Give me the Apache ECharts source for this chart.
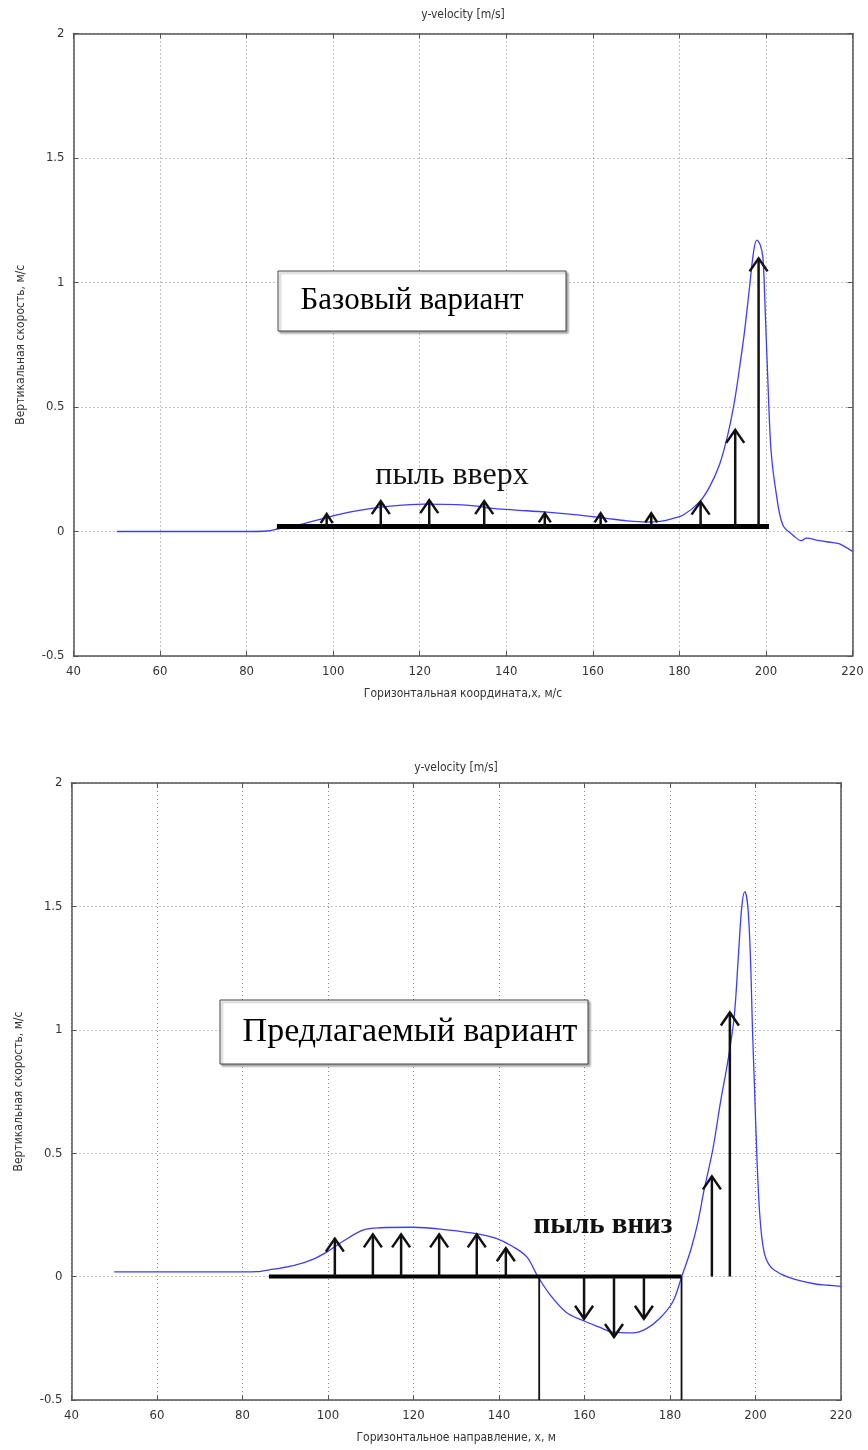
<!DOCTYPE html>
<html><head><meta charset="utf-8">
<script src="https://cdn.jsdelivr.net/npm/echarts@6/dist/echarts.min.js"></script>
<style>html,body{margin:0;padding:0;background:#fff}#c{width:868px;height:1450px}</style>
</head><body><div id="c"></div>
<script>
// ---------- data ----------
const chartTitle = 'y-velocity [m/s]';
const yAxisName = 'Вертикальная скорость, м/с';
const xNameTop = 'Горизонтальная координата,x, м/с';
const xNameBottom = 'Горизонтальное направление, x, м';

// top chart (base variant) velocity curve [x, vy]
const topCurve = [
  [50,0],[55,0],[60,0],[65,0],[70,0],[75,0],[80,0],[84.7,0.002],[87.4,0.011],[90,0.02],
  [93.1,0.031],[97.8,0.053],[102.4,0.073],[107.8,0.09],[113.2,0.102],[120.8,0.11],[128.5,0.108],
  [133.2,0.102],[136.2,0.094],[141.6,0.087],[149.3,0.078],[157,0.066],[163.2,0.053],[167.8,0.043],
  [172.4,0.038],[175.5,0.041],[178,0.05],[180.9,0.066],[184.7,0.12],[187,0.18],[189.3,0.27],
  [191.2,0.39],[192.8,0.53],[194,0.67],[195.1,0.81],[196.2,0.98],[197.2,1.13],[197.9,1.17],
  [198.7,1.15],[199.3,1.1],[199.8,0.9],[200.5,0.58],[201.2,0.32],[202.4,0.15],[203.9,0.026],
  [206.2,-0.014],[208.2,-0.037],[209.3,-0.027],[212.4,-0.037],[215.5,-0.045],[217,-0.05],[220,-0.08]
];
// top chart dust line and arrows [x, base, tip]
const topBaseline = [[87,0.02],[200.7,0.02]];
const topArrows = [
  [98.5,0.02,0.07],[111,0.02,0.122],[122.2,0.02,0.126],[134.9,0.02,0.122],[148.9,0.02,0.073],
  [161.8,0.02,0.073],[173.5,0.02,0.073],[184.9,0.02,0.12],[192.9,0.02,0.408],[198.3,0.02,1.097]
];

// bottom chart (proposed variant) velocity curve
const bottomCurve = [
  [50,0.019],[60,0.019],[70,0.019],[80,0.019],[83.4,0.02],[87.2,0.03],[91.9,0.044],[96.6,0.071],
  [100.1,0.104],[103.6,0.144],[108.3,0.189],[112.2,0.198],[120,0.2],[127.8,0.189],[135.6,0.171],
  [139.5,0.154],[143,0.124],[146.5,0.08],[149,0.003],[151.8,-0.07],[155.7,-0.144],[159.6,-0.178],
  [163.5,-0.205],[166.6,-0.225],[171.3,-0.228],[174.4,-0.212],[177.5,-0.171],[180.6,-0.104],
  [182.8,0.003],[184.9,0.111],[186.5,0.219],[188,0.353],[190,0.514],[191.9,0.716],[193.5,0.87],
  [195,1.05],[196,1.3],[196.8,1.5],[197.5,1.56],[198.2,1.5],[198.8,1.3],[199.3,1.0],[199.8,0.75],
  [200.3,0.5],[201,0.25],[202,0.1],[203.5,0.04],[206,0.01],[209,-0.01],[214,-0.03],[217,-0.035],[220,-0.04]
];
const bottomBaseline = [[86.2,0],[182.7,0]];
const bottomVLines = [[149.4,0,-0.5],[182.7,0,-0.5]];
const bottomArrows = [
  [101.6,0,0.154],[110.5,0,0.171],[117.1,0,0.171],[126,0,0.171],[134.8,0,0.171],[141.6,0,0.115],
  [159.9,0,-0.171],[166.9,0,-0.245],[173.9,0,-0.171],[189.8,0,0.406],[194,0,1.07]
];

const labelTop = 'Базовый вариант';
const labelTopDust = 'пыль вверх';
const labelBottom = 'Предлагаемый вариант';
const labelBottomDust = 'пыль вниз';

// ---------- chart ----------
const FONT = "'DejaVu Sans Condensed','Liberation Sans Narrow','DejaVu Sans',sans-serif";
const SERIF = "'Liberation Serif','DejaVu Serif',serif";
const chart = echarts.init(document.getElementById('c'), null, {renderer:'canvas'});

const grids = [
  {left:73.5, right:15.5, top:33.5, height:622.5, show:false},
  {left:71.5, right:27, top:783, height:617, show:false}
];

function xAx(g, pos, name){
  return {
    gridIndex:g, type:'value', min:40, max:220, interval:20, position:pos,
    axisLine:{show:true, onZero:false, lineStyle:{color:'#555', width:1.5}},
    axisTick:{show:true, inside:true, length:5, lineStyle:{color:'#555'}},
    axisLabel:{show:pos==='bottom', margin:9, fontSize:13, color:'#333', fontFamily:FONT},
    splitLine:{show:pos==='bottom', lineStyle:{type:[1,3], color:'#888', width:1}},
    name: pos==='bottom' ? name : '', nameLocation:'middle', nameGap:32,
    nameTextStyle:{fontSize:12, color:'#333', fontFamily:FONT}
  };
}
function yAx(g, pos){
  return {
    gridIndex:g, type:'value', min:-0.5, max:2, interval:0.5, position:pos,
    axisLine:{show:true, onZero:false, lineStyle:{color:'#555', width:1.5}},
    axisTick:{show:true, inside:true, length:5, lineStyle:{color:'#555'}},
    axisLabel:{show:pos==='left', margin:9, fontSize:13, color:'#333', fontFamily:FONT},
    splitLine:{show:pos==='left', lineStyle:{type:[1,3], color:'#888', width:1}},
    name: pos==='left' ? yAxisName : '', nameLocation:'middle', nameGap:47,
    nameTextStyle:{fontSize:12, color:'#333', fontFamily:FONT}
  };
}

function renderArrow(params, api){
  const x = api.value(0), b = api.value(1), t = api.value(2);
  const p0 = api.coord([x,b]), p1 = api.coord([x,t]);
  const len = Math.abs(p1[1]-p0[1]);
  const dir = p1[1] < p0[1] ? 1 : -1;
  const hw = len < 20 ? 6 : 9, hh = len < 20 ? 9 : 13;
  return {type:'group', children:[
    {type:'line', shape:{x1:p0[0],y1:p0[1],x2:p1[0],y2:p1[1]}, style:{stroke:'#111', lineWidth:2.5}},
    {type:'polyline', shape:{points:[[p1[0]-hw,p1[1]+dir*hh],[p1[0],p1[1]],[p1[0]+hw,p1[1]+dir*hh]]},
     style:{stroke:'#111', lineWidth:2.5, fill:null}}
  ]};
}
function renderVLine(params, api){
  const x = api.value(0);
  const p0 = api.coord([x, api.value(1)]), p1 = api.coord([x, api.value(2)]);
  return {type:'line', shape:{x1:p0[0],y1:p0[1],x2:p1[0],y2:p1[1]}, style:{stroke:'#111', lineWidth:1.8}};
}

function curve(xi, data){
  return {type:'line', xAxisIndex:xi, yAxisIndex:xi, data:data, showSymbol:false, smooth:0.35,
    lineStyle:{color:'#3c3cff', width:1.3}, z:2, silent:true};
}
function base(xi, data, w){
  return {type:'line', xAxisIndex:xi, yAxisIndex:xi, data:data, showSymbol:false,
    lineStyle:{color:'#000', width:w}, z:4, silent:true};
}
function arrows(xi, data){
  return {type:'custom', xAxisIndex:xi, yAxisIndex:xi, data:data, renderItem:renderArrow,
    encode:{x:0, y:[1,2]}, z:5, silent:true};
}

const boxStyle = {fill:'#fff', stroke:'#444', lineWidth:1, shadowColor:'rgba(0,0,0,0.35)', shadowOffsetX:2, shadowOffsetY:2, shadowBlur:2};

chart.setOption({
  animation:false,
  backgroundColor:'#fff',
  grid:grids,
  xAxis:[xAx(0,'bottom',xNameTop), xAx(0,'top'), xAx(1,'bottom',xNameBottom), xAx(1,'top')],
  yAxis:[yAx(0,'left'), yAx(0,'right'), yAx(1,'left'), yAx(1,'right')],
  series:[
    curve(0, topCurve),
    base(0, topBaseline, 5),
    arrows(0, topArrows),
    curve(2, bottomCurve),
    base(2, bottomBaseline, 4),
    {type:'custom', xAxisIndex:2, yAxisIndex:2, data:bottomVLines, renderItem:renderVLine, encode:{x:0,y:[1,2]}, z:4, silent:true},
    arrows(2, bottomArrows)
  ],
  graphic:[
    {type:'text', x:463, y:15, style:{text:chartTitle, fontSize:12, fill:'#333', fontFamily:FONT, align:'center', verticalAlign:'middle'}},
    {type:'text', x:456, y:768, style:{text:chartTitle, fontSize:12, fill:'#333', fontFamily:FONT, align:'center', verticalAlign:'middle'}},
    {type:'rect', shape:{x:278, y:271, width:288, height:60}, style:boxStyle, z:10},
    {type:'text', x:412, y:301, style:{text:labelTop, fontSize:31, fill:'#000', fontFamily:SERIF, align:'center', verticalAlign:'middle'}, z:11},
    {type:'text', x:452, y:476, style:{text:labelTopDust, fontSize:32, fill:'#111', fontFamily:SERIF, align:'center', verticalAlign:'middle'}, z:11},
    {type:'rect', shape:{x:220, y:1000, width:368, height:64}, style:boxStyle, z:10},
    {type:'text', x:410, y:1032, style:{text:labelBottom, fontSize:34, fill:'#000', fontFamily:SERIF, align:'center', verticalAlign:'middle'}, z:11},
    {type:'text', x:603, y:1226, style:{text:labelBottomDust, fontSize:29, fontWeight:'bold', fill:'#111', fontFamily:SERIF, align:'center', verticalAlign:'middle'}, z:11}
  ]
});
</script></body></html>
